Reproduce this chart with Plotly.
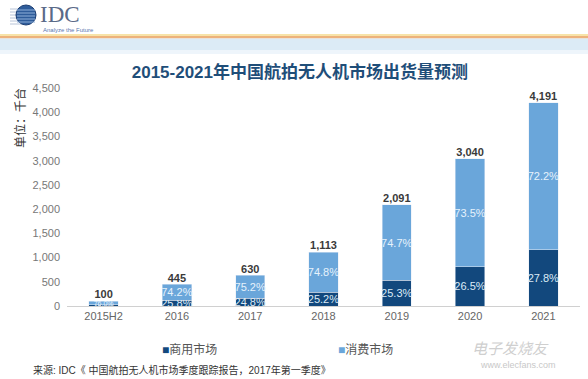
import plotly.graph_objects as go

categories = ["2015H2", "2016", "2017", "2018", "2019", "2020", "2021"]
totals = [100, 445, 630, 1113, 2091, 3040, 4191]
commercial_pct = [24.0, 25.8, 24.8, 25.2, 25.3, 26.5, 27.8]
consumer_pct = [76.0, 74.2, 75.2, 74.8, 74.7, 73.5, 72.2]
series_names = ["商用市场", "消费市场"]
y_ticks = [0, 500, 1000, 1500, 2000, 2500, 3000, 3500, 4000, 4500]

commercial = [t * p / 100 for t, p in zip(totals, commercial_pct)]
consumer = [t - c for t, c in zip(totals, commercial)]

DARK = "#12487D"
LIGHT = "#6AA6DA"
FONT = "Liberation Sans, Noto Sans CJK SC, sans-serif"
label_sizes = [7 if t < 200 else 11 for t in totals]

fig = go.Figure()
fig.add_trace(go.Bar(
    x=categories, y=commercial, name=series_names[0], marker_color=DARK,
    text=[f"{p:.1f}%" for p in commercial_pct], textposition="inside",
    insidetextanchor="middle", constraintext="none", textangle=0,
    textfont=dict(color="#DCEBF7", size=label_sizes, family=FONT), showlegend=False,
))
fig.add_trace(go.Bar(
    x=categories, y=consumer, name=series_names[1], marker_color=LIGHT,
    text=[f"{p:.1f}%" for p in consumer_pct], textposition="inside",
    insidetextanchor="middle", constraintext="none", textangle=0,
    textfont=dict(color="#E6F2FC", size=label_sizes, family=FONT), showlegend=False,
))
fig.add_trace(go.Scatter(
    x=categories, y=totals, mode="text", text=[f"{t:,}" for t in totals],
    textposition="top center", showlegend=False,
    textfont=dict(color="#3A3A3A", size=11, family=FONT),
    texttemplate="<b>%{text}</b>", hoverinfo="skip",
))

fig.update_layout(
    width=588, height=379, barmode="stack", bargap=0.6,
    margin=dict(l=67, r=8, t=88, b=73),
    paper_bgcolor="white", plot_bgcolor="white",
    font=dict(family=FONT, color="#666"),
    showlegend=False,
    title=dict(text="<b>2015-2021年中国航拍无人机市场出货量预测</b>",
               x=0.51, xanchor="center", y=1 - 72 / 379, yanchor="middle",
               font=dict(size=17, color="#1F4E79", family=FONT)),
    xaxis=dict(showgrid=False, showline=True, linecolor="#D0D0D0", linewidth=1,
               ticks="", tickfont=dict(size=11, color="#666")),
    yaxis=dict(range=[0, 4500], tickvals=y_ticks, tickformat=",d", showgrid=False,
               zeroline=False, showline=False, ticks="", ticklabelstandoff=6,
               tickfont=dict(size=11, color="#777")),
)


def px(x):
    return (x - 67) / 513


def py(y):
    return 1 + (88 - y) / 218


# header band
for y0, y1, col in [(34, 36, "#F7E3A8"), (36, 38.5, "#EDB27C"),
                    (38.5, 50, "#DCEBF6"), (50, 54, "#EEF5FB")]:
    fig.add_shape(type="rect", xref="paper", yref="paper", x0=-0.2, x1=1.2,
                  y0=py(y1), y1=py(y0), fillcolor=col, line_width=0, layer="below")

# logo
for yy in [9, 12, 15, 18, 21, 24]:
    fig.add_shape(type="line", xref="paper", yref="paper",
                  x0=px(10), x1=px(22), y0=py(yy), y1=py(yy),
                  line=dict(color="#B8C4D8", width=1))
fig.add_shape(type="circle", xref="paper", yref="paper",
              x0=px(16), x1=px(36), y0=py(25), y1=py(5),
              fillcolor="#2E5C9A", line=dict(color="#1C3E73", width=1))
for yy in [10, 13, 16, 19, 22]:
    fig.add_shape(type="line", xref="paper", yref="paper",
                  x0=px(17), x1=px(35), y0=py(yy), y1=py(yy),
                  line=dict(color="#8FB0DA", width=1))
fig.add_annotation(xref="paper", yref="paper", x=px(38), y=py(14), text="IDC",
                   showarrow=False, xanchor="left", yanchor="middle",
                   font=dict(family="Liberation Serif, DejaVu Serif", size=23, color="#5A6A88"))
fig.add_annotation(xref="paper", yref="paper", x=px(41), y=py(30), text="Analyze the Future",
                   showarrow=False, xanchor="left", yanchor="middle",
                   font=dict(size=6, color="#5A78B0"))

# y axis title
fig.add_annotation(xref="paper", yref="paper", x=px(20), y=py(118), text="单位：千台",
                   textangle=-90, showarrow=False, xanchor="center", yanchor="middle",
                   font=dict(size=12, color="#333"))

# legend
legend_x = [160, 336]
for name, color, lx in zip(series_names, [DARK, LIGHT], legend_x):
    fig.add_annotation(xref="paper", yref="paper", x=px(lx), y=py(349),
                       text=f"<span style='color:{color}'>■</span>{name}",
                       showarrow=False, xanchor="left", yanchor="middle",
                       font=dict(size=12, color="#555"))

# source
fig.add_annotation(xref="paper", yref="paper", x=px(31), y=py(370),
                   text="来源: IDC《 中国航拍无人机市场季度跟踪报告，2017年第一季度》",
                   showarrow=False, xanchor="left", yanchor="middle",
                   font=dict(size=10, color="#333"))

# watermark
fig.add_annotation(xref="paper", yref="paper", x=px(470), y=py(348), text="<i>电子发烧友</i>",
                   showarrow=False, xanchor="left", yanchor="middle",
                   font=dict(size=15, color="#CFCFCF"))
fig.add_annotation(xref="paper", yref="paper", x=px(478), y=py(365), text="www.elecfans.com",
                   showarrow=False, xanchor="left", yanchor="middle",
                   font=dict(size=9, color="#C8C8C8"))

fig.write_html("out.html", config={"displayModeBar": False},
               post_script="document.body.style.margin='0';")
